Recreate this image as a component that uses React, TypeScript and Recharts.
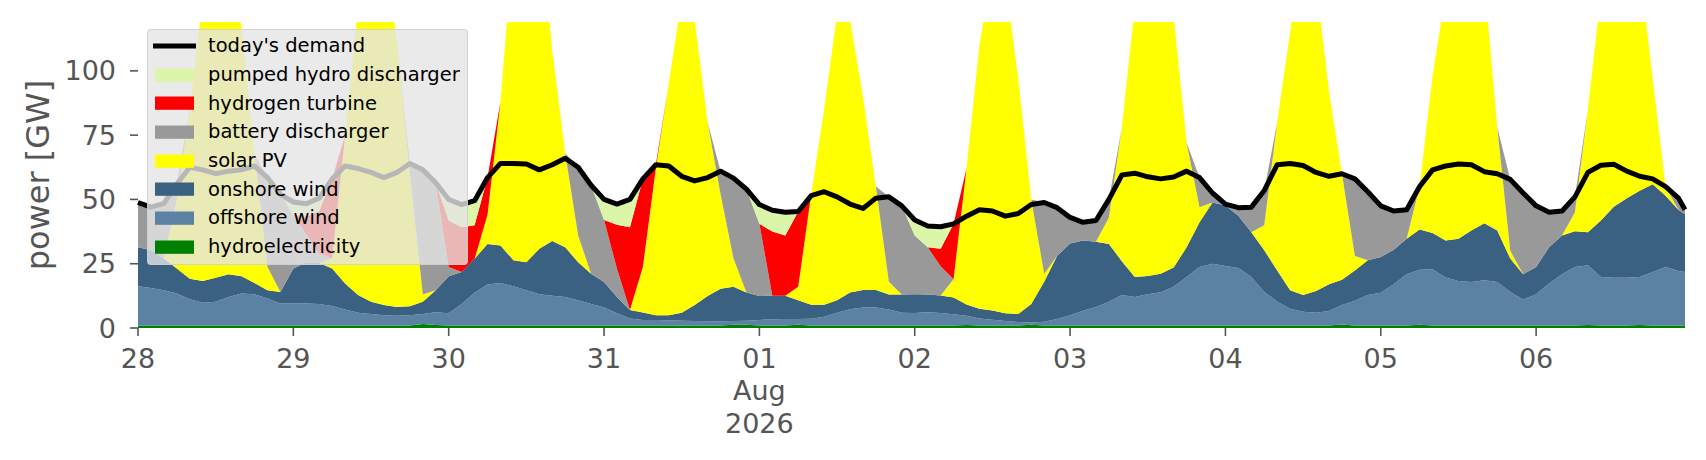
import { ComposedChart, Area, Line, XAxis, YAxis, Legend } from "recharts";

// hour offsets from Jul 28 00:00 (2-hourly, last sample at 23:00 on Aug 6)
const hours = [
  0, 2, 4, 6, 8, 10, 12, 14, 16, 18, 20, 22, 24, 26, 28, 30, 32, 34, 36, 38, 40, 42, 44, 46,
  48, 50, 52, 54, 56, 58, 60, 62, 64, 66, 68, 70, 72, 74, 76, 78, 80, 82, 84, 86, 88, 90, 92, 94,
  96, 98, 100, 102, 104, 106, 108, 110, 112, 114, 116, 118, 120, 122, 124, 126, 128, 130, 132, 134, 136, 138, 140, 142,
  144, 146, 148, 150, 152, 154, 156, 158, 160, 162, 164, 166, 168, 170, 172, 174, 176, 178, 180, 182, 184, 186, 188, 190,
  192, 194, 196, 198, 200, 202, 204, 206, 208, 210, 212, 214, 216, 218, 220, 222, 224, 226, 228, 230, 232, 234, 236, 238, 239,
];

const dayTicks = [0, 24, 48, 72, 96, 120, 144, 168, 192, 216];
const dayLabels = ["28", "29", "30", "31", "01", "02", "03", "04", "05", "06"];
const yTicks = [0, 25, 50, 75, 100];

const demand = [
  48.8, 47.0, 48.5, 56, 62.5, 61.5, 60, 61, 61.5, 63, 58.5, 52, 49, 48.3, 50.5, 58, 63, 62, 60.5, 58.5, 60.5, 64, 61.5, 56.5,
  50, 48, 49.5, 58.5, 64, 64, 63.8, 61.5, 63.5, 66, 62.5, 55.5, 50, 48.2, 50, 58, 63.5, 63, 59, 57.2, 58.5, 61, 58.3, 54,
  48, 45.8, 45, 45.3, 51.5, 53, 51, 48.2, 46.5, 50.5, 51, 47.5, 42, 39.7, 39.4, 40.5, 43.5, 46, 45.5, 43.5, 44.5, 48, 48.8, 46.8,
  43, 41.1, 41.8, 50, 59.5, 60.2, 58.8, 58, 58.7, 61, 58.5, 52.5, 48.2, 46.8, 47, 53.5, 63.5, 64, 63.2, 60.5, 59, 60, 58, 53,
  47.5, 45.5, 46, 55, 61.5, 63, 63.8, 63.5, 60.8, 60, 57.8, 52.5, 47.5, 45, 45.5, 51, 60.5, 63.3, 63.7, 61, 59, 58, 55, 50.5, 46,
];

const hydro = [
  1, 1, 1, 1, 1, 1, 1, 1, 1, 1, 1, 1, 1, 1, 1, 1, 1, 1, 1, 1, 1, 1, 1.6, 1.2,
  1, 1, 1, 1, 1, 1, 1, 1, 1, 1, 1, 1, 1, 1, 1, 1, 1, 1, 1, 1, 1, 1, 1.3, 1.3,
  1, 1, 1, 1.3, 1, 1, 1, 1, 1, 1, 1, 1, 1, 1, 1, 1, 1.2, 1, 1, 1, 1, 1.3, 1, 1,
  1, 1, 1, 1, 1, 1, 1, 1, 1, 1, 1, 1, 1, 1, 1, 1, 1, 1, 1, 1, 1, 1.4, 1, 1,
  1, 1, 1, 1.3, 1, 1, 1, 1, 1, 1, 1, 1, 1, 1, 1, 1, 1.2, 1, 1, 1, 1.2, 1, 1, 1, 1,
];

const offshore = [
  15.2, 14.6, 13.7, 12.4, 10.2, 8.8, 9.2, 11.1, 12.4, 12.1, 10.5, 8.5, 8.5, 8.5, 8.3, 7.6, 6.2, 4.9, 4.4, 4.0, 3.8, 4.0, 3.8, 4.9,
  4.7, 8.3, 12.7, 15.9, 16.5, 15.2, 13.7, 12.1, 11.5, 11.1, 9.8, 8.3, 7.0, 4.7, 2.7, 2.1, 2.1, 2.0, 1.8, 1.7, 1.6, 1.6, 1.4, 1.5,
  2.1, 2.4, 2.5, 2.2, 2.6, 3.4, 4.9, 6.3, 7.0, 7.0, 6.2, 4.9, 4.8, 5.1, 4.8, 4.3, 3.6, 2.7, 2.2, 1.7, 1.3, 0.8, 1.4, 2.5,
  4.0, 5.7, 7.2, 9.2, 11.8, 11.1, 12.1, 12.9, 15.0, 18.8, 22.7, 24.0, 23.1, 22.3, 18.8, 13.0, 9.2, 6.5, 5.3, 4.9, 5.6, 7.5, 9.6, 11.8,
  12.7, 16.0, 19.9, 21.4, 21.8, 18.6, 17.3, 16.9, 17.6, 16.9, 13.0, 10.1, 12.1, 16.3, 19.9, 22.7, 23.2, 18.8, 18.5, 18.5, 18.6, 20.8, 22.7, 21.2, 20.8,
];

const onshore = [
  15.2, 14.6, 12.3, 9.7, 8.0, 8.5, 9.3, 8.8, 6.7, 4.4, 3.2, 4.5, 13.6, 16.1, 16.0, 14.5, 10.1, 6.9, 4.8, 3.9, 3.4, 3.5, 4.8, 8.6,
  14.4, 12.5, 13.2, 15.8, 14.6, 10.1, 10.9, 17.7, 21.3, 19.3, 14.8, 11.8, 9.9, 6.4, 3.3, 2.9, 1.9, 2.0, 3.1, 6.2, 9.8, 12.7, 13.3, 11.0,
  9.3, 9.1, 9.0, 7.3, 5.4, 4.6, 4.9, 6.5, 6.8, 6.8, 5.8, 7.1, 7.3, 6.9, 6.8, 6.6, 4.3, 3.8, 3.6, 3.0, 3.1, 7.2, 15.6, 24.6,
  27.9, 27.3, 25.3, 22.5, 13.2, 7.7, 7.1, 7.2, 7.5, 11.6, 17.4, 23.8, 23.5, 20.4, 17.4, 16.2, 12.2, 7.2, 6.5, 8.5, 10.4, 9.9, 11.8, 13.5,
  13.9, 13.4, 13.8, 15.6, 14.1, 14.4, 16.4, 20.0, 22.1, 20.0, 13.0, 9.8, 10.6, 14.1, 15.1, 13.9, 12.8, 22.0, 27.7, 31.0, 33.6, 34.1, 27.7, 23.7, 22.5,
];

const solar = [
  0, 0, 0, 27, 66, 110, 135, 124, 97, 50, 9, 0, 0, 0, 0, 4, 57.7, 112, 140, 136, 104, 51.5, 2.8, 0,
  0, 0, 0, 11.3, 56, 123.7, 139.4, 129.2, 74.2, 36.6, 10.4, 0, 0, 0, 0, 17.7, 57, 90, 122.1, 111.1, 67.6, 36.7, 11, 0,
  0, 0, 0, 5.2, 43, 76, 111.2, 106.2, 75.2, 40.2, 5, 0, 0, 0, 0, 7.1, 52.9, 102.5, 133.2, 129.3, 91.6, 40.7, 3, 0,
  0, 0, 0, 10.3, 52, 105.2, 129.8, 133.9, 97.5, 40.6, 5.9, 0, 0, 0, 0, 9.8, 57.6, 100.3, 137.2, 120.6, 75, 41.2, 5.6, 0,
  0, 0, 0, 16.7, 61.1, 96, 125.3, 117, 94.3, 40.1, 3, 0, 0, 0, 0, 7.4, 47.8, 88.2, 102.8, 104.5, 86.6, 41.1, 3.6, 0, 0,
];

const battery = [
  17.4, 16.8, 21.5, 5.9, 0, 0, 0, 0, 0, 0, 34.8, 38, 20.9, 11, 3.6, 0, 0, 0, 0, 0, 0, 4, 48.5, 41.8,
  3.6, 0, 0, 0, 0, 0, 0, 0, 0, 0, 26.5, 34.4, 24.1, 10.9, 0, 0, 0, 0, 0, 0, 0, 9, 31.3, 40.2,
  28.1, 0, 0, 0, 0, 0, 0, 0, 0, 0, 33, 34.5, 22.9, 18.4, 11.4, 0, 0, 0, 0, 0, 0, 0, 27.8, 18.7,
  10.1, 7.1, 8.3, 7, 0, 0, 0, 0, 0, 0, 11.5, 3.7, 0.6, 3.1, 9.8, 13.5, 0, 0, 0, 0, 0, 0, 30, 26.7,
  19.9, 15.1, 11.3, 0, 0, 0, 0, 0, 0, 0, 27.8, 31.6, 23.8, 13.6, 9.5, 6, 0, 0, 0, 0, 0, 0, 0, 4.6, 1.7,
];

const hydrogen = [
  0, 0, 0, 0, 0, 0, 0, 0, 0, 0, 0, 0, 0, 6.7, 16.6, 30.9, 0, 0, 0, 0, 0, 0, 0, 0,
  18.1, 17.4, 13.1, 14.5, 0, 0, 0, 0, 0, 0, 0, 0, 0, 17.2, 32.2, 34.3, 1.5, 0, 0, 0, 0, 0, 0, 0,
  0, 25, 23.5, 29.3, 0, 0, 0, 0, 0, 0, 0, 0, 0, 0, 6.8, 21.5, 0, 0, 0, 0, 0, 0, 0, 0,
  0, 0, 0, 0, 0, 0, 0, 0, 0, 0, 0, 0, 0, 0, 0, 0, 0, 0, 0, 0, 0, 0, 0, 0,
  0, 0, 0, 0, 0, 0, 0, 0, 0, 0, 0, 0, 0, 0, 0, 0, 0, 0, 0, 0, 0, 0, 0, 0, 0,
];

const pumpedHydro = [
  0, 0, 0, 0, 0, 0, 0, 0, 0, 0, 0, 0, 5, 5, 5, 0, 0, 0, 0, 0, 0, 0, 0, 0,
  8.2, 8.8, 9.5, 0, 0, 0, 0, 0, 0, 0, 0, 0, 8, 8, 10.8, 0, 0, 0, 0, 0, 0, 0, 0, 0,
  7.5, 8.3, 9, 0, 0, 0, 0, 0, 0, 0, 0, 0, 6, 8.3, 8.6, 0, 0, 0, 0, 0, 0, 0, 0, 0,
  0, 0, 0, 0, 0, 0, 0, 0, 0, 0, 0, 0, 0, 0, 0, 0, 0, 0, 0, 0, 0, 0, 0, 0,
  0, 0, 0, 0, 0, 0, 0, 0, 0, 0, 0, 0, 0, 0, 0, 0, 0, 0, 0, 0, 0, 0, 0, 0, 0,
];

// bottom to top of the stack
const series = [
  { key: "hydro", name: "hydroelectricity", color: "#008000" },
  { key: "offshore", name: "offshore wind", color: "#5b82a3" },
  { key: "onshore", name: "onshore wind", color: "#3b6182" },
  { key: "solar", name: "solar PV", color: "#ffff00" },
  { key: "battery", name: "battery discharger", color: "#999999" },
  { key: "hydrogen", name: "hydrogen turbine", color: "#ff0000" },
  { key: "pumped", name: "pumped hydro discharger", color: "#dbf6a9" },
];

const data = hours.map((h, i) => ({
  h,
  hydro: hydro[i],
  offshore: offshore[i],
  onshore: onshore[i],
  solar: solar[i],
  battery: battery[i],
  hydrogen: hydrogen[i],
  pumped: pumpedHydro[i],
  demand: demand[i],
}));

const FONT = "DejaVu Sans, sans-serif";
const TICK_COLOR = "#555555";

function XTick(props: any) {
  const { x, y, payload } = props;
  const i = dayTicks.indexOf(payload.value);
  const lines = [dayLabels[i]];
  if (payload.value === 96) lines.push("Aug", "2026");
  return (
    <g>
      {lines.map((t, k) => (
        <text
          key={k}
          x={x}
          y={y + 32 + k * 32.4}
          textAnchor="middle"
          fill={TICK_COLOR}
          fontSize={27}
          fontFamily={FONT}
        >
          {t}
        </text>
      ))}
    </g>
  );
}

function LegendBox() {
  const items = [
    { name: "today's demand", color: "#000000", line: true },
    ...series.slice().reverse().map((s) => ({ name: s.name, color: s.color, line: false })),
  ];
  return (
    <div
      style={{
        width: 321,
        height: 236,
        boxSizing: "border-box",
        background: "rgba(229,229,229,0.8)",
        border: "1px solid rgba(204,204,204,0.8)",
        borderRadius: 4,
        paddingTop: 1.5,
        fontFamily: FONT,
        fontSize: 19.5,
        color: "#000",
      }}
    >
      {items.map((it) => (
        <div key={it.name} style={{ display: "flex", alignItems: "center", height: 28.7 }}>
          <svg width={56} height={20} style={{ flex: "none", marginLeft: 4 }}>
            {it.line ? (
              <line x1={1} x2={44} y1={10} y2={10} stroke={it.color} strokeWidth={5} />
            ) : (
              <rect x={3} y={3.5} width={39} height={13.3} fill={it.color} />
            )}
          </svg>
          <span style={{ whiteSpace: "nowrap" }}>{it.name}</span>
        </div>
      ))}
    </div>
  );
}

export default function App() {
  return (
    <div style={{ width: 1706, height: 460, position: "relative", background: "#fff" }}>
      <style>{"body{margin:0}"}</style>
      <ComposedChart
        width={1706}
        height={460}
        data={data}
        margin={{ top: 22, right: 21, bottom: 0, left: 0 }}
        style={{ fontFamily: FONT }}
      >
        <XAxis
          type="number"
          dataKey="h"
          domain={[0, 239]}
          ticks={dayTicks}
          interval={0}
          height={132}
          axisLine={false}
          tickLine={{ stroke: TICK_COLOR, strokeWidth: 1.6 }}
          tickSize={8}
          tickMargin={0}
          tick={<XTick />}
        />
        <YAxis
          type="number"
          domain={[0, 119]}
          allowDataOverflow
          ticks={yTicks}
          width={138}
          axisLine={false}
          tickLine={{ stroke: TICK_COLOR, strokeWidth: 1.6 }}
          tickSize={8}
          tickMargin={14}
          tick={{ fill: TICK_COLOR, fontSize: 27, fontFamily: FONT }}
          label={{
            value: "power [GW]",
            angle: -90,
            position: "insideLeft",
            offset: 38,
            style: { textAnchor: "middle", fill: TICK_COLOR, fontSize: 32, fontFamily: FONT },
          }}
        />
        {series.map((s) => (
          <Area
            key={s.key}
            type="linear"
            dataKey={s.key}
            name={s.name}
            stackId="gen"
            stroke="none"
            fill={s.color}
            fillOpacity={1}
            dot={false}
            activeDot={false}
            isAnimationActive={false}
          />
        ))}
        <Line
          type="linear"
          dataKey="demand"
          name="today's demand"
          stroke="#000000"
          strokeWidth={5}
          strokeLinejoin="round"
          dot={false}
          activeDot={false}
          isAnimationActive={false}
        />
        <Legend
          layout="vertical"
          align="center"
          verticalAlign="middle"
          content={() => <LegendBox />}
          wrapperStyle={{ left: 147, top: 29, width: 321, height: 236 }}
        />
      </ComposedChart>
    </div>
  );
}
